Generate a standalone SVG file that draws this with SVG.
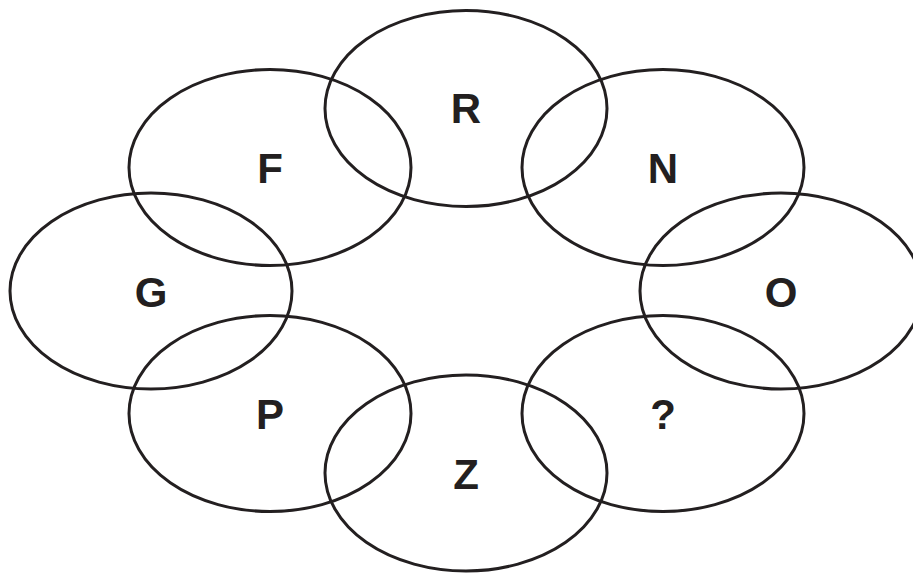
<svg xmlns="http://www.w3.org/2000/svg" width="913" height="573" viewBox="0 0 913 573">
<style>
ellipse{fill:none;stroke:#231f20;stroke-width:3}
text{font-family:"Liberation Sans",Arial,sans-serif;font-weight:bold;font-size:42px;fill:#231f20;text-anchor:middle}
</style>
<rect width="913" height="573" fill="#fff"/>
<g id="R"><ellipse cx="466" cy="108.5" rx="141" ry="98"/><text x="466" y="123">R</text></g>
<g id="F"><ellipse cx="270" cy="167.5" rx="141" ry="98"/><text x="270" y="183">F</text></g>
<g id="N"><ellipse cx="663" cy="167.5" rx="141" ry="98"/><text x="663" y="183">N</text></g>
<g id="G"><ellipse cx="151" cy="291" rx="141" ry="98"/><text x="151" y="307">G</text></g>
<g id="O"><ellipse cx="781" cy="291" rx="141" ry="98"/><text x="781" y="307">O</text></g>
<g id="P"><ellipse cx="270" cy="413.5" rx="141" ry="98"/><text x="270" y="429">P</text></g>
<g id="Q"><ellipse cx="663" cy="413.5" rx="141" ry="98"/><text x="663" y="429">?</text></g>
<g id="Z"><ellipse cx="466" cy="473" rx="141" ry="98"/><text x="466" y="489">Z</text></g>
<g id="connectors"></g>
</svg>
